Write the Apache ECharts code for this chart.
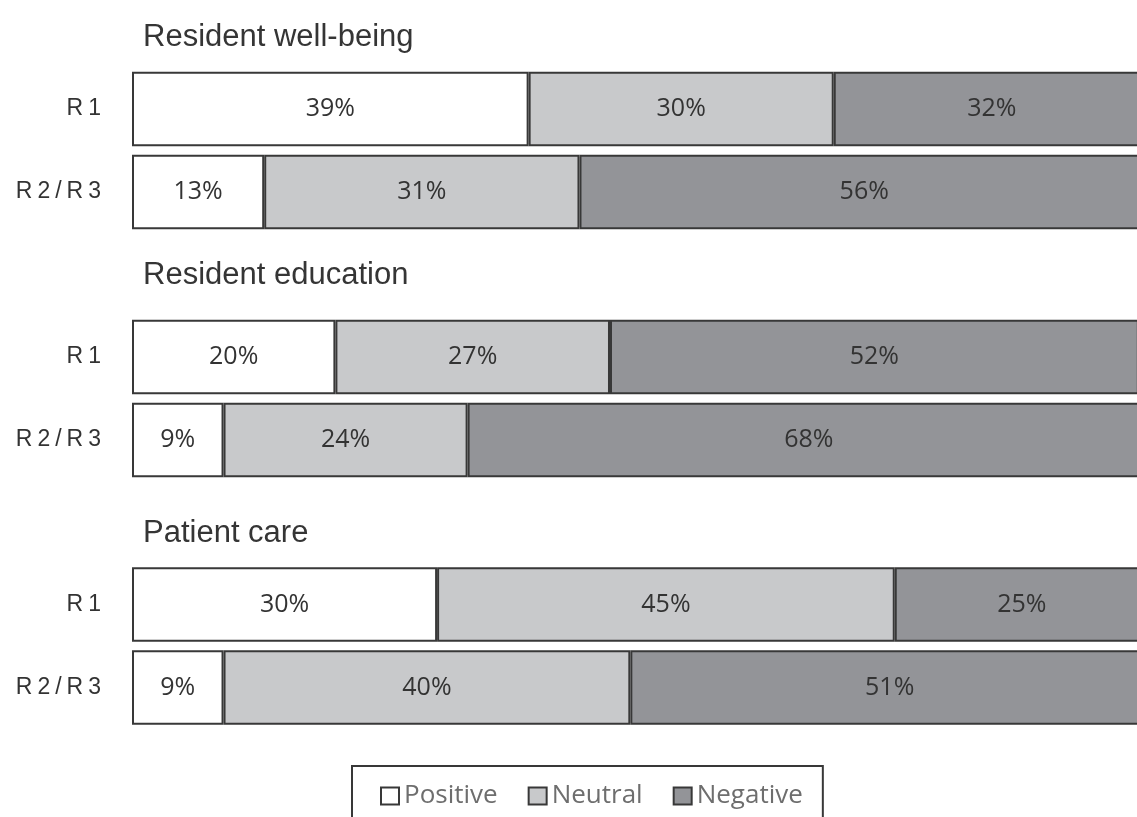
<!DOCTYPE html>
<html>
<head>
<meta charset="utf-8">
<title>Resident survey responses</title>
<script src="https://cdn.jsdelivr.net/npm/echarts@6/dist/echarts.min.js"></script>
<style>
  html, body { margin: 0; padding: 0; background: #ffffff; }
  #chart { width: 1137px; height: 817px; }
</style>
</head>
<body>
<div id="chart"></div>
<script>
// Survey topics, one panel each
const groups = ['Resident well-being', 'Resident education', 'Patient care'];
// Respondent cohorts shown as rows inside every panel
const rows = ['R1', 'R2/R3'];
// Response shares (%) per panel, in row order [R1, R2/R3]
const positive = [[39, 13], [20, 9], [30, 9]];
const neutral  = [[30, 31], [27, 24], [45, 40]];
const negative = [[32, 56], [52, 68], [25, 51]];

const seriesNames = ['Positive', 'Neutral', 'Negative'];
const seriesValues = [positive, neutral, negative];
const seriesColors = ['#ffffff', '#c8c9cb', '#939498'];

// Panel layout: the bar area runs past the right edge of the page
const panelTops = [67.5, 315.5, 563];
const panelHeight = 166;
const plotWidth = 1017;
const titleTops = [16.5, 255, 512.5];

const labelFont = 'Liberation Sans, Arial, sans-serif';
const valueFont = 'Open Sans, Noto Sans, sans-serif';
const edge = '#383838';

const chart = echarts.init(document.getElementById('chart'), null, { renderer: 'canvas' });

const grid = [], xAxis = [], yAxis = [], series = [], title = [];

groups.forEach((g, gi) => {
  title.push({
    text: g,
    left: 138,
    top: titleTops[gi],
    textStyle: { fontFamily: labelFont, fontSize: 31, fontWeight: 'normal', color: '#353535' }
  });
  grid.push({
    left: 132, width: plotWidth, top: panelTops[gi], height: panelHeight,
    containLabel: false, outerBoundsMode: 'none'
  });
  xAxis.push({
    type: 'value', gridIndex: gi, min: 0, max: 100,
    show: false, splitLine: { show: false }
  });
  yAxis.push({
    type: 'category', gridIndex: gi, data: rows, inverse: true,
    axisLine: { show: false }, axisTick: { show: false },
    axisLabel: {
      margin: 31,
      fontFamily: labelFont,
      fontSize: 23,
      color: '#333333',
      // spread the row codes out letter by letter
      formatter: v => v.split('').map((c, i) => `{${i ? 'b' : 'a'}|${c}}`).join(''),
      rich: {
        a: { fontFamily: labelFont, fontSize: 23, color: '#333333' },
        b: { fontFamily: labelFont, fontSize: 23, color: '#333333', padding: [0, 0, 0, 5] }
      }
    }
  });
  seriesNames.forEach((name, si) => {
    series.push({
      name,
      type: 'bar',
      xAxisIndex: gi,
      yAxisIndex: gi,
      stack: 'panel' + gi,
      barCategoryGap: '10%',
      data: seriesValues[si][gi],
      itemStyle: { color: seriesColors[si], borderColor: edge, borderWidth: 2 },
      label: {
        show: true,
        position: 'inside',
        formatter: '{c}%',
        fontFamily: valueFont,
        fontSize: 25,
        color: '#333333'
      },
      emphasis: { disabled: true },
      animation: false
    });
  });
});

chart.setOption({
  backgroundColor: '#ffffff',
  animation: false,
  title,
  grid,
  xAxis,
  yAxis,
  series,
  legend: {
    data: seriesNames,
    left: 352,
    top: 766,
    orient: 'horizontal',
    icon: 'rect',
    itemWidth: 18,
    itemHeight: 17,
    itemGap: 30,
    padding: [17, 20, 40, 28],
    borderColor: edge,
    borderWidth: 2,
    backgroundColor: '#ffffff',
    selectedMode: false,
    textStyle: { fontFamily: valueFont, fontSize: 26, color: '#6e6e6e' }
  }
});
</script>
</body>
</html>
